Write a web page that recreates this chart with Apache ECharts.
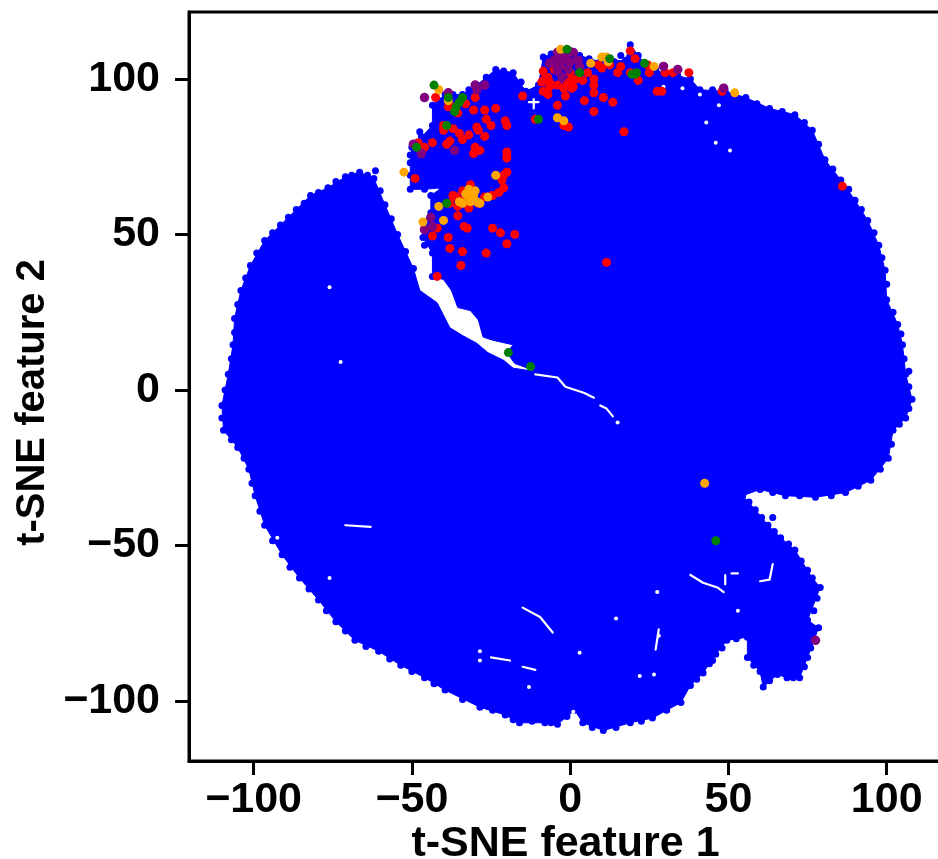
<!DOCTYPE html>
<html><head><meta charset="utf-8">
<style>html,body{margin:0;padding:0;background:#fff;overflow:hidden}#c{width:938px;height:859px}</style>
<script src="https://cdn.jsdelivr.net/npm/echarts@6/dist/echarts.min.js"></script>
</head><body><div id="c"></div>
<script>
const tickValues = [-100,-50,0,50,100];
const xName = 't-SNE feature 1';
const yName = 't-SNE feature 2';
const gapEdgeLower = [[-11.5,6],[-18,7],[-21,9.5],[-26,12],[-29.5,15],[-34,17.5],[-38,20],[-42,28],[-47.5,32]];
const blueOutline = [[-49.5,39],[-54.5,50],[-58.5,59.5],[-62,68],
[-66.5,70],[-71,68.5],[-76.5,65],[-82,62.5],[-86.5,58],[-91.5,53],[-96.5,48],[-101,40],[-104,32],[-106,23],[-106.5,14.5],[-108,5],[-110,-5],[-109.5,-13],[-105,-18.5],[-101.5,-25.5],[-99.5,-34],[-96.5,-43.5],[-91,-53],[-85.5,-60.5],[-79.5,-67.5],[-74,-74.5],[-68,-80.5],[-60.5,-84],[-53.5,-88.5],[-46,-92.5],[-39.5,-96.5],[-28.5,-102],[-20.5,-104.5],[-16,-107],[-8,-107],[-4,-107.5],[-1,-105],[1.5,-103],[4,-107],[10.5,-109.5],[19,-107],[26,-105.5],[35,-100.5],[38,-95],[42,-91],[46,-85],[49.5,-80.5],[56,-79.5],[56,-86],[60,-90.5],[61,-95.5],[65.5,-91.5],[68.5,-92.5],[72.5,-92.5],[75,-86],[77,-80.5],[78.5,-76.5],[75,-74],[79,-63.5],[76.5,-60.5],[75,-58],[71,-51.5],[66.5,-47.5],[62.5,-43.5],[58.5,-38.5],[54.5,-34],
[60,-32],[68,-34],[77.5,-34.5],[87,-33],[95,-29],[100.5,-22],[102,-13],[106,-9],[108,-3],[106,5],[105,14.5],[103.5,21],[100,29],[99.5,38.5],[97.5,46.5],[94,54.5],[90,61],[85.5,67.5],[80.5,74],[76.5,83.5],[71,88.5],[63,90.5],[55.5,94],[49,96],[41,96.5],[38,100],[30,102],[24.5,103.5],[21.5,107.5],[19,111],[17.5,106],[9.5,105.5],[3,107.5],[-3,109],[-8.5,107],[-10,98],[-14,96],[-18,102],[-23.5,103],[-29.5,98],[-34,95],[-39.5,95],[-43.5,91.5],[-43.5,85],[-50,78],[-50.5,73],[-50.5,64.5],[-46,64.5],[-40.5,65],[-44,62.5],[-44,57],[-46.5,54],[-46.5,49],[-43.5,44],[-43.5,36.5]];
const gapEdgeUpper = [[-40,35.5],[-37.5,32],[-35.5,26.5],[-31.5,25.5],[-29,22.5],[-27.5,17],[-24.5,16],[-18,14.5],[-20,12],[-17.5,8.5],[-12,6.5]];
const blueEdge = [[-64,69],[-69,69],[-74,67],[-79.5,63.5],[-84,60],[-89,55.5],[-94,50.5],[-99,44],[-102.5,36],[-105,27.5],[-106,18.5],[-107,10],[-109,0],[-110,-9],[-107,-16],[-103,-22],[-100.5,-30],[-98,-39],[-94,-48.5],[-88.5,-57],[-82.5,-64],[-77,-71],[-71,-77.5],[-64.5,-82.5],[-57,-86.5],[-50,-90.5],[-43,-94.5],[-34,-99.5],[-24.5,-103],[-18,-106],[-12,-106.5],[-6,-107],[7,-108.5],[14.5,-108.5],[22.5,-106.5],[30.5,-103],[40,-93],[44,-88],[48,-83],[52.5,-80],[58,-88.5],[63,-93.5],[70.5,-92.5],[74,-89],[76,-83],[77,-71],[78,-67],[73,-55],[69,-49.5],[64.5,-45.5],[60.5,-41],[56.5,-36],[64,-33],[72.5,-34],[82.5,-34],[91,-31],[98,-25.5],[101.5,-17.5],[104,-11],[107,-6],[107,1],[105.5,10],[104.5,18],[102,25],[100,34],[98.5,42.5],[96,50.5],[92,58],[88,64.5],[83,71],[78.5,79],[74,86],[67,89.5],[59,92],[52,95],[45,96.5],[34,101],[27,103],[14,105.5],[6,106.5],[0,108.5],[-6,108],[-15.5,99],[-21,102.5],[-26.5,100.5],[-32,96.5],[-37,95],[-41.5,93],[-47,81.5],[-50.5,75.5],[-50.5,69],[-46,46.5],[-52,44.5],[-56.5,55],[-60,64]];
const blueStray = [[-47.5,83],[45,-87],[64,-41],[107,6],[-61.5,70.5],[16,107.5]];
const gapLines = [
[[-11,5],[-4,4],[-1.5,1],[4.5,-1],[7.5,-2.5]],[[9.5,-5],[11.5,-6],[13.5,-8.5]],
[[38,-59.5],[42,-62],[46.5,-63.5],[48.5,-65]],[[49,-59.5],[49,-62.5]],[[51,-59],[53,-59]],[[64,-56],[63,-61],[60,-61.5]],
[[-15,-70],[-9.5,-73],[-5.5,-78]],[[-25,-86],[-19,-87]],[[28,-77],[27,-83.5]],[[-15,-89],[-11,-90]],
[[-71,-43.5],[-63,-44]],[[-11.5,93.5],[-11.5,90.5]],[[-13,92.5],[-10,92.5]]];
const gapSpots = [[-28.5,-84],[-28.5,-87],[28,-79],[14.5,-73.5],[53,-71],[3,-84.5],[26.5,-91.5],[-13,-95.5],[27.5,-65],[22,-92],[-92.5,-47.5],[-76,-60.5],[-72.5,9],[-76,33],[29.5,97.5],[35.5,97],[41,95],[47,91.5],[43,86],[46,79.5],[50.5,77],[1,-103.5],[15,-10.5]];
const redPts = [[-15,94.5],[-23.5,90.5],[-27,90],[-30.5,90],[-26.5,87],[-25,85],[-29.5,84.5],[-29,83.5],[-20.5,86.5],[-20,85],[-27,81.5],[-32,82],[-35,82.5],[-34,80.5],[-37,84],[-40,85],[-40,83.5],[-38,80],[-39,79],[-43.5,79.5],[-46,78],[-48,79.5],[-30,78],[-28.5,77],[-30.5,76],[-20,76.5],[-20,75],[-36.5,91],[-35.5,89],[-33,92],[-30,94],[-42.5,94],[-38.5,91],[-11,87],[-8.5,96],[-7,95],[-6.5,97.5],[-4,91.5],
[-49,68],[-20,74.5],[-20,70],[-21,69],[-21.5,67.5],[-21,65],[-22.5,63.5],[-24.5,62.5],[-37,62.5],[-38,60],[-35.5,59],[-32,58.5],[-29,60],[-31.5,66],[-34,64],[-36,62],[-34,61],[-27,62],[-35.5,56],[-33.5,52.5],[-32.5,52],[-24.5,52],[-22,50.5],[-17.5,50],[-20,47],[-38.5,49],[-42,52],[-43.5,49.5],[-38,45.5],[-34,44.5],[-26.5,44],[-34.5,40],[-42,36.5],[11.5,41],[17,83],[86,65.5],
[7.5,89.5],[13.5,92.5],[10.5,94],[4.5,93],[7.5,95.5],[-1.5,94.5],[7.5,98],[7.5,100],[4,99.5],[0.5,97],[-0.5,84.5],[-2,85],[27.5,96],[29,96],[48,96],
[-8.5,102.5],[-7,100.5],[-5,103],[0,102],[0.5,99.5],[1,97.5],[-4,98],[-8,100],[-6.5,99],[-2,97],[-1,99],[2,100],[-9,99],[5.5,102],[9,104.5],[10,103.5],[12.5,104.5],[15,102],[16,104],[19,109],[20.5,106.5],[21.5,99.5],[19,102],[24.5,104.5],[25,102],[30,102],[32.5,102],[37.5,102]];
const purplePts = [[-46,94],[-38.5,95.5],[-29.5,96.5],[-27,98],[-30,98],[-36.5,77],[-49.5,79],[-47,76],[-44,55.5],[-46,51.5],[-43.5,52.5],
[-3,105.5],[-5,105.5],[-1,106],[1,108.5],[-4,108.5],[-4,103.5],[-0.5,103],[-2.5,100.5],[3,104],[29.5,104],[34,103],[48.5,97],[-1.5,107.5],[-6.5,105],[-3,109],[-0.5,109],[2.5,106],[-5,106],[-3,104],[0,105.5],[-2,106.5],[-4,102.5],[77.5,-80.5]];
const orangePts = [[-41.5,96.5],[-38.5,93],[-52.5,70],[-23.5,69],[-26,62],[-31.5,63.5],[-32.5,62.5],[-30.5,62.5],[-29.5,60.5],[-34,60],[-31.5,60.5],[-32,64.5],[-33,63],[-30,64],[-28.5,60],[-35,60.5],[-41.5,59],[-40,54.5],[-46.5,54],
[-3,109.5],[6.5,105],[10,107],[11.5,107],[12,105.5],[26.5,104],[52,95.5],[-4,87.5],[-2,86.5],[42.5,-30]];
const greenPts = [[-43,98],[-38.5,94],[-34,94],[-35,92.5],[-36,91],[-36.5,89.5],[-39,85],[-48.5,78],[-10,87],[-39,60],[-1,109.5],[3,102],[12.5,106.5],[23.5,105],[19.5,101.5],[20.5,101.5],[21,102],[-19.5,12],[-12.5,7.5],[46,-48.5]];

const font = '"Liberation Sans", Arial, sans-serif';
const fmt = v => String(v).replace('-', '\u2212');
const bodyPoints = gapEdgeLower.concat(blueOutline, gapEdgeUpper);
function dots(name, data, color, size, z){
  return {type:'scatter', name, data, symbolSize:size, z, itemStyle:{color, opacity:1}, silent:true};
}
const chart = echarts.init(document.getElementById('c'), null, {renderer:'canvas'});
chart.setOption({
  animation:false,
  backgroundColor:'#fff',
  grid:{left:189, top:12, width:761, height:749, outerBoundsMode:'none', show:true, borderColor:'#000', borderWidth:3, backgroundColor:'#fff'},
  xAxis:{type:'value', min:-120.4, max:120, name:xName, nameLocation:'middle', nameGap:62,
    nameMoveOverlap:false,
    nameTextStyle:{fontFamily:font, fontWeight:'bold', fontSize:43, color:'#000', padding:[0,8,0,0]},
    splitLine:{show:false},
    axisLine:{show:true, onZero:false, lineStyle:{color:'#000', width:3}},
    axisTick:{show:true, customValues:tickValues, length:14, lineStyle:{color:'#000', width:3}},
    axisLabel:{show:true, customValues:tickValues, formatter:fmt, margin:18, fontFamily:font, fontWeight:'bold', fontSize:43, color:'#000', hideOverlap:false}},
  yAxis:{type:'value', min:-119.3, max:121.5, name:yName, nameLocation:'middle', nameGap:136,
    nameMoveOverlap:false,
    nameTextStyle:{fontFamily:font, fontWeight:'bold', fontSize:40, color:'#000', padding:[0,32,0,0]},
    splitLine:{show:false},
    axisLine:{show:true, onZero:false, lineStyle:{color:'#000', width:3}},
    axisTick:{show:true, customValues:tickValues, length:14, lineStyle:{color:'#000', width:3}},
    axisLabel:{show:true, customValues:tickValues, formatter:fmt, margin:29, fontFamily:font, fontWeight:'bold', fontSize:43, color:'#000', hideOverlap:false}},
  series:[
    {type:'custom', name:'body', coordinateSystem:'cartesian2d', data:bodyPoints, z:2, silent:true,
      renderItem:(p,api)=> p.dataIndex!==0 ? null : ({type:'polygon',
        shape:{points:bodyPoints.map(d=>api.coord(d))}, style:{fill:'#0000ff', stroke:'#0000ff', lineWidth:1}})},
    dots('edge', blueOutline, '#0000ff', 7, 3),
    dots('edge2', blueEdge, '#0000ff', 7, 3),
    dots('stray', blueStray, '#0000ff', 7, 3),
    {type:'custom', name:'gaps', coordinateSystem:'cartesian2d', data:gapLines.map(g=>g[0]), z:4, silent:true,
      renderItem:(p,api)=>({type:'polyline', shape:{points:gapLines[p.dataIndex].map(d=>api.coord(d))},
        style:{fill:'none', stroke:'#fff', lineWidth:2.2, lineCap:'round', lineJoin:'round'}})},
    dots('gapSpots', gapSpots, '#ffffff', 4, 4),
    dots('red', redPts, '#ff0000', 9, 5),
    dots('purple', purplePts, '#800080', 9.5, 6),
    dots('orange', orangePts, '#ffa500', 9, 7),
    dots('green', greenPts, '#008000', 9, 8)
  ]
});
</script></body></html>
